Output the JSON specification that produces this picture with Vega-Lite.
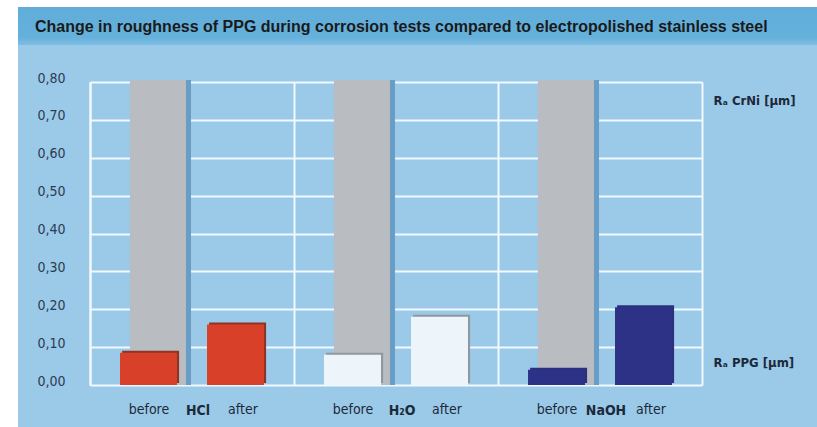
{
  "$schema": "https://vega.github.io/schema/vega-lite/v6.json",
  "background": "white",
  "padding": {"left": 18, "top": 7, "right": 0, "bottom": 0},
  "spacing": 0,
  "config": {"view": {"fill": "#9bc9e8", "stroke": null}, "concat": {"spacing": 0}},
  "datasets": {
    "crni": [
      {"test": "HCl", "phase": "CrNi", "value": 0.805},
      {"test": "H2O", "phase": "CrNi", "value": 0.805},
      {"test": "NaOH", "phase": "CrNi", "value": 0.805}
    ],
    "ppg": [
      {"test": "HCl", "phase": "before", "value": 0.085},
      {"test": "HCl", "phase": "after", "value": 0.16},
      {"test": "H2O", "phase": "before", "value": 0.08},
      {"test": "H2O", "phase": "after", "value": 0.18},
      {"test": "NaOH", "phase": "before", "value": 0.04},
      {"test": "NaOH", "phase": "after", "value": 0.205}
    ],
    "band": [{"name": "title"}]
  },
  "vconcat": [
    {
      "width": 799,
      "height": 38,
      "view": {"fill": "#62afdb", "stroke": null},
      "data": {"name": "band"},
      "mark": {"type": "rect", "fill": {"gradient": "linear", "x1": 0, "y1": 0, "x2": 0, "y2": 1, "stops": [{"offset": 0, "color": "#60addb"}, {"offset": 0.8, "color": "#65b1dc"}, {"offset": 1, "color": "#7ebde3"}]}},
      "encoding": {},
      "title": {
        "text": "Change in roughness of PPG during corrosion tests compared to electropolished stainless steel",
        "anchor": "start",
        "frame": "group",
        "offset": -21,
        "baseline": "middle",
        "dx": 17,
        "dy": 15,
        "font": "Liberation Sans",
        "fontSize": 16,
        "fontWeight": "bold",
        "color": "#1a1a1a"
      }
    },
    {
      "width": 799,
      "height": 382,
      "layer": [
        {
          "data": {"name": "crni"},
          "mark": {"type": "bar", "color": "#6a9dc5"},
          "encoding": {
            "x": {"field": "test", "type": "nominal", "sort": ["HCl", "H2O", "NaOH"], "scale": {"domain": ["HCl", "H2O", "NaOH"], "range": [72, 684], "paddingInner": 0, "paddingOuter": 0},
              "axis": {"orient": "top", "grid": true, "gridColor": "#f2f9fd", "gridWidth": 2, "bandPosition": 0, "labels": false, "ticks": false, "domain": false, "title": null}},
            "xOffset": {"field": "phase", "type": "nominal", "scale": {"type": "band", "domain": ["CrNi"], "paddingInner": 0.243, "paddingOuter": 1, "align": 0.304}},
            "y": {"field": "value", "type": "quantitative", "scale": {"domain": [0, 0.8], "range": [340, 37], "nice": false, "zero": true}, "axis": null}
          }
        },
        {
          "data": {"name": "crni"},
          "mark": {"type": "bar", "color": "#b9bcc0"},
          "encoding": {
            "x": {"field": "test", "type": "nominal", "sort": ["HCl", "H2O", "NaOH"], "scale": {"domain": ["HCl", "H2O", "NaOH"], "range": [72, 684], "paddingInner": 0, "paddingOuter": 0},
              "axis": {"orient": "bottom", "offset": -42, "domain": false, "ticks": false, "grid": false, "labelOffset": 6, "labelPadding": 18, "labelAngle": 0, "labelExpr": "datum.value == 'H2O' ? 'H₂O' : datum.value", "labelFont": "Liberation Sans Narrow, DejaVu Sans Condensed, Liberation Sans, sans-serif", "labelFontWeight": "bold", "labelFontSize": 14, "labelColor": "#1b2a3a", "title": null}},
            "xOffset": {"field": "phase", "type": "nominal", "scale": {"type": "band", "domain": ["CrNi"], "paddingInner": 0.243, "paddingOuter": 1, "align": 0.27}},
            "y": {"field": "value", "type": "quantitative", "scale": {"domain": [0, 0.8], "range": [340, 37], "nice": false, "zero": true},
              "axis": {"orient": "left", "offset": -72, "values": [0, 0.1, 0.2, 0.3, 0.4, 0.5, 0.6, 0.7, 0.8], "domain": true, "domainColor": "#f2f9fd", "domainWidth": 2, "ticks": false, "grid": true, "gridColor": "#f2f9fd", "gridWidth": 2, "labelPadding": 25, "labelOffset": -4, "labelExpr": "replace(format(datum.value, '.2f'), '.', ',')", "labelFont": "Liberation Sans Narrow, DejaVu Sans Condensed, Liberation Sans, sans-serif", "labelFontSize": 14, "labelColor": "#2a3d52", "title": null}}
          }
        },
        {
          "data": {"name": "ppg"},
          "mark": {"type": "bar", "yOffset": -2},
          "encoding": {
            "x": {"field": "test", "type": "nominal", "sort": ["HCl", "H2O", "NaOH"], "axis": null},
            "xOffset": {"field": "phase", "type": "nominal", "sort": ["before", "after"], "scale": {"type": "band", "domain": ["before", "after"], "paddingInner": 0.345, "paddingOuter": 0.345, "align": 0.535}},
            "y": {"field": "value", "type": "quantitative", "axis": null},
            "color": {"field": "test", "type": "nominal", "scale": {"domain": ["HCl", "H2O", "NaOH"], "range": ["#8e3424", "#8f979f", "#2c307f"]}, "legend": null}
          }
        },
        {
          "data": {"name": "ppg"},
          "mark": {"type": "bar"},
          "encoding": {
            "x": {"field": "test", "type": "nominal", "sort": ["HCl", "H2O", "NaOH"], "axis": null},
            "xOffset": {"field": "phase", "type": "nominal", "sort": ["before", "after"], "scale": {"type": "band", "domain": ["before", "after"], "paddingInner": 0.345, "paddingOuter": 0.345}},
            "y": {"field": "value", "type": "quantitative",
              "axis": {"orient": "right", "offset": -115, "values": [0.06, 0.75], "domain": true, "domainColor": "#f2f9fd", "domainWidth": 2, "ticks": false, "grid": false, "labelPadding": 11, "labelExpr": "datum.value > 0.5 ? 'Rₐ CrNi [µm]' : 'Rₐ PPG [µm]'", "labelFont": "Liberation Sans Narrow, DejaVu Sans Condensed, Liberation Sans, sans-serif", "labelFontWeight": "bold", "labelFontSize": 13, "labelColor": "#1b2a3a", "title": null}},
            "color": {"field": "test", "type": "nominal", "scale": {"domain": ["HCl", "H2O", "NaOH"], "range": ["#d8402a", "#eef5fa", "#2e3287"]}, "legend": null}
          }
        },
        {
          "data": {"name": "ppg"},
          "mark": {"type": "text", "baseline": "middle", "align": "center", "font": "Liberation Sans Narrow, DejaVu Sans Condensed, Liberation Sans, sans-serif", "fontSize": 14, "color": "#1b2a3a"},
          "encoding": {
            "x": {"field": "test", "type": "nominal", "sort": ["HCl", "H2O", "NaOH"], "axis": null},
            "xOffset": {"field": "phase", "type": "nominal", "sort": ["before", "after"], "scale": {"type": "point", "domain": ["before", "after"], "padding": 0.585, "align": 0.536}},
            "y": {"datum": -0.066, "type": "quantitative", "axis": null},
            "text": {"field": "phase", "type": "nominal"}
          }
        }
      ],
      "resolve": {
        "scale": {"xOffset": "independent", "color": "independent"},
        "axis": {"x": "independent", "y": "independent"}
      }
    }
  ]
}
